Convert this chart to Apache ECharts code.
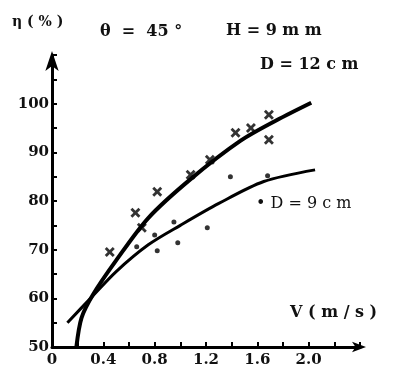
<!DOCTYPE html>
<html>
<head>
<meta charset="utf-8">
<script src="https://cdn.jsdelivr.net/npm/echarts@6/dist/echarts.min.js"></script>
<style>html,body{margin:0;padding:0;background:#fff}#c{width:393px;height:374px}</style>
</head>
<body>
<div id="c"></div>
<script>
// Fitted curve D = 12 cm (thick)
const curve12 = [[0.19,50],[0.23,56],[0.32,60.8],[0.5,67.8],[0.75,76.5],[1.08,84.5],[1.47,92.4],[1.75,96.6],[2.02,100.2]];
// Fitted curve D = 9 cm (thin)
const curve9 = [[0.12,55],[0.3,60],[0.5,65.5],[0.75,71],[1.0,75],[1.3,79.5],[1.65,84],[2.05,86.4]];
// Measured points D = 12 cm (x marks)
const pts12 = [[0.45,69.5],[0.65,77.6],[0.70,74.5],[0.82,81.9],[1.08,85.4],[1.23,88.5],[1.43,94],[1.55,95],[1.69,97.7],[1.69,92.6]];
// Measured points D = 9 cm (dots)
const pts9 = [[0.66,70.6],[0.82,69.8],[0.98,71.4],[1.21,74.5],[1.39,85],[1.68,85.2],[0.95,75.7],[0.80,73]];
const xLabels = ['0','0.4','0.8','1.2','1.6','2.0'];
const yLabels = ['50','60','70','80','90','100'];

const font = '"DejaVu Serif", "Liberation Serif", serif';
const chart = echarts.init(document.getElementById('c'), null, {renderer:'canvas'});
const crossPath = 'path://M2,0L5,3L8,0L10,2L7,5L10,8L8,10L5,7L2,10L0,8L3,5L0,2Z';
chart.setOption({
  animation:false,
  backgroundColor:'#fff',
  grid:{left:52, right:33, top:55, bottom:27},
  xAxis:{
    type:'value', min:0, max:2.4, interval:0.2,
    axisLine:{show:true, lineStyle:{color:'#000', width:3}, symbol:['none','arrow'], symbolSize:[8,14], symbolOffset:[0,6]},
    axisTick:{show:true, inside:true, length:5, lineStyle:{color:'#000', width:2}},
    splitLine:{show:false},
    axisLabel:{
      color:'#111', fontFamily:font, fontSize:15, fontWeight:'bold', margin:6,
      formatter:function(v){
        const s = v===0 ? '0' : v.toFixed(1);
        return xLabels.indexOf(s) >= 0 ? s : '';
      }
    }
  },
  yAxis:{
    type:'value', min:50, max:110, interval:5,
    axisLine:{show:true, lineStyle:{color:'#000', width:3}, symbol:['none','arrow'], symbolSize:[10,20], symbolOffset:[0,4]},
    axisTick:{show:true, inside:true, length:5, lineStyle:{color:'#000', width:2}},
    splitLine:{show:false},
    axisLabel:{
      color:'#111', fontFamily:font, fontSize:15, fontWeight:'bold', margin:3,
      formatter:function(v){ const s=String(Math.round(v)); return yLabels.indexOf(s)>=0 ? s : ''; }
    }
  },
  series:[
    {type:'line', data:curve12, smooth:0.3, showSymbol:false, lineStyle:{color:'#000', width:4}},
    {type:'line', data:curve9, smooth:0.3, showSymbol:false, lineStyle:{color:'#000', width:3}},
    {type:'scatter', data:pts12, symbol:crossPath, symbolSize:10, itemStyle:{color:'#000'}},
    {type:'scatter', data:pts9, symbol:'circle', symbolSize:5, itemStyle:{color:'#000'}}
  ],
  graphic:[
    {type:'text', left:12, top:15, style:{text:'η ( % )', font:'bold 14px '+font, fill:'#111'}},
    {type:'text', left:100, top:24, style:{text:'θ  =  45 °', font:'bold 16px '+font, fill:'#111'}},
    {type:'text', left:226, top:23, style:{text:'H = 9 m m', font:'bold 16px '+font, fill:'#111'}},
    {type:'text', left:260, top:57, style:{text:'D = 12 c m', font:'bold 16px '+font, fill:'#111'}},
    {type:'text', left:290, top:305, style:{text:'V ( m / s )', font:'bold 16px '+font, fill:'#111'}},
    {type:'text', left:256, top:196, style:{text:'• D = 9 c m', font:'16px '+font, fill:'#111'}}
  ]
});
</script>
</body>
</html>
